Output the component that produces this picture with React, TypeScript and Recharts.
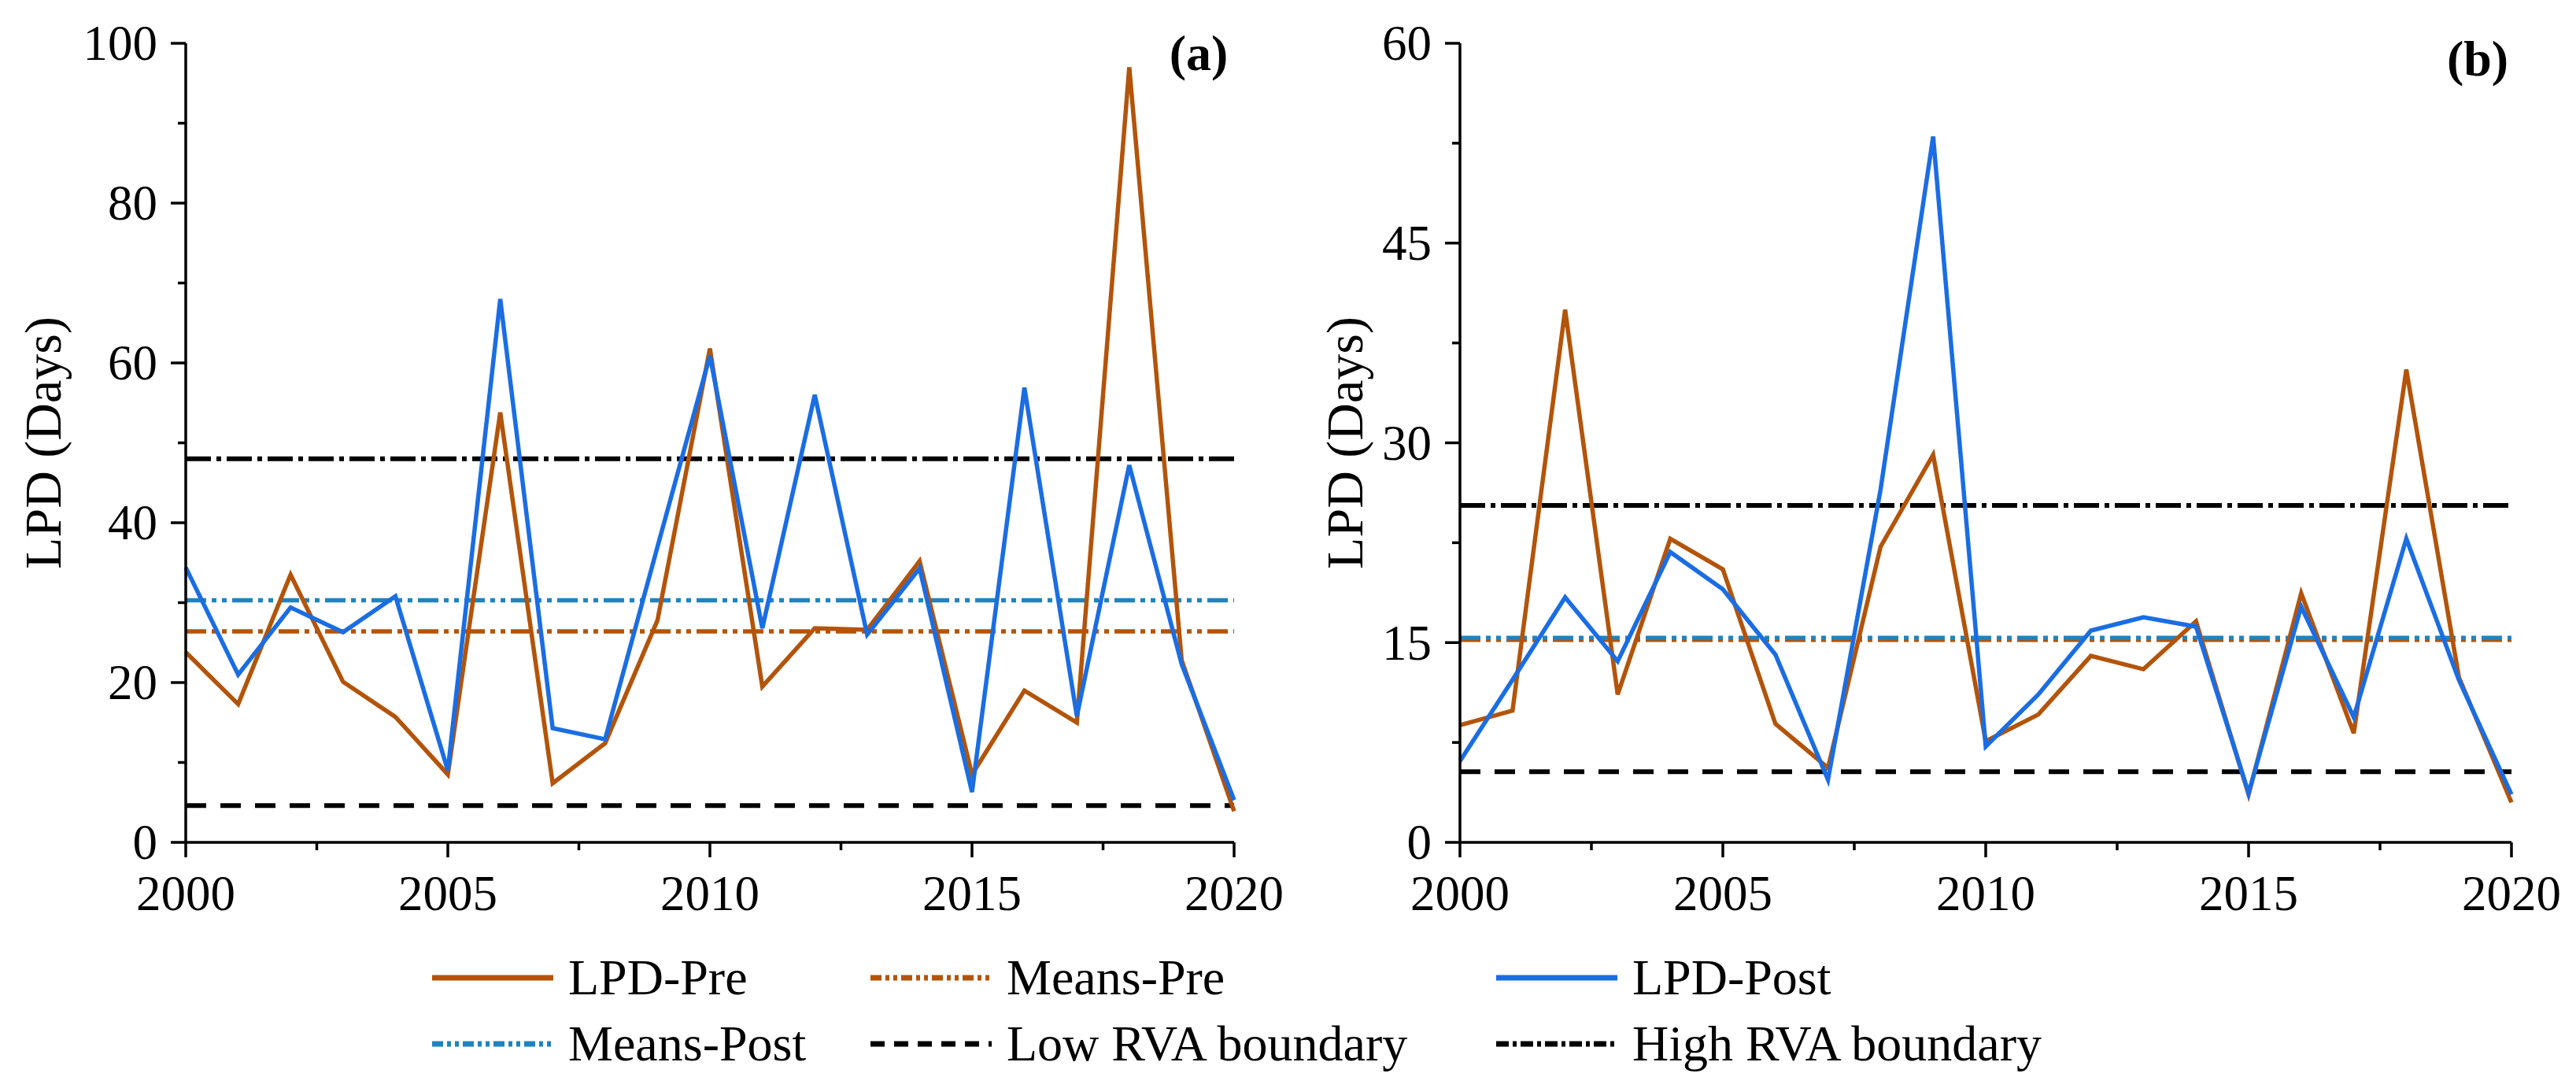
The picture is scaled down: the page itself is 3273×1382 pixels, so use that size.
import React from "react";
import { LineChart, Line, XAxis, YAxis, ReferenceLine } from "recharts";

const FONT = "'Liberation Serif', 'Times New Roman', serif";
const BROWN = "#B3540A";
const BLUE = "#1A6DE3";
const TEAL = "#1E84BF";

// years on the x axis
const years = [2000, 2001, 2002, 2003, 2004, 2005, 2006, 2007, 2008, 2009, 2010,
  2011, 2012, 2013, 2014, 2015, 2016, 2017, 2018, 2019, 2020];
const xTicks = [2000, 2002.5, 2005, 2007.5, 2010, 2012.5, 2015, 2017.5, 2020];

// panel (a)
const lpdPreA = [23.8, 17.3, 33.5, 20.1, 15.7, 8.5, 53.8, 7.4, 12.4, 27.8, 61.8,
  19.5, 26.8, 26.6, 35.2, 8.5, 19.0, 15.0, 97.0, 22.8, 3.9];
const lpdPostA = [34.4, 21.0, 29.4, 26.3, 30.8, 9.0, 68.0, 14.3, 12.9, 37.0, 60.9,
  26.8, 56.0, 26.0, 34.3, 6.3, 56.9, 15.8, 47.2, 22.3, 5.3];
const linesA = [26.4, 30.3, 4.6, 48.0]; // means-pre, means-post, low RVA, high RVA
const yTicksA = [0, 10, 20, 30, 40, 50, 60, 70, 80, 90, 100];

// panel (b)
const lpdPreB = [8.8, 9.9, 40.0, 11.1, 22.8, 20.5, 8.9, 5.6, 22.2, 29.1, 7.6,
  9.6, 14.0, 13.0, 16.6, 3.6, 18.7, 8.2, 35.5, 12.4, 3.0];
const lpdPostB = [6.1, 12.2, 18.4, 13.6, 21.8, 19.0, 14.1, 4.7, 26.5, 53.0, 7.2,
  11.1, 15.9, 16.9, 16.2, 3.7, 17.7, 9.4, 22.8, 12.2, 3.6];
const linesB = [15.2, 15.35, 5.3, 25.3];
const yTicksB = [0, 7.5, 15, 22.5, 30, 37.5, 45, 52.5, 60];

const DASH_MEAN = "26 7 6 7 6 7";
const DASH_LOW = "26 18";
const DASH_HIGH = "32 7 6 7";

const legendItems = [
  { label: "LPD-Pre", color: BROWN, dash: undefined, row: 0, col: 0 },
  { label: "Means-Pre", color: BROWN, dash: "14 5 5 5 5 5", row: 0, col: 1 },
  { label: "LPD-Post", color: BLUE, dash: undefined, row: 0, col: 2 },
  { label: "Means-Post", color: TEAL, dash: "14 5 5 5 5 5", row: 1, col: 0 },
  { label: "Low RVA boundary", color: "#000", dash: "18 12", row: 1, col: 1 },
  { label: "High RVA boundary", color: "#000", dash: "16 5 5 5", row: 1, col: 2 },
];
const legendCols = [549, 1106, 1901];
const legendRows = [1242, 1326];

function XTick(props: any) {
  const { x, y, payload } = props;
  const major = payload.value % 5 === 0;
  return (
    <g>
      <line x1={x} y1={y} x2={x} y2={y + (major ? 19 : 10)} stroke="#000" strokeWidth={3.5} />
      {major && (
        <text x={x} y={y + 86} textAnchor="middle" fontSize={63} fontFamily={FONT} fill="#000">
          {payload.value}
        </text>
      )}
    </g>
  );
}

const makeYTick = (labelStep: number) => (props: any) => {
  const { x, y, payload } = props;
  const major = payload.value % labelStep === 0;
  return (
    <g>
      <line x1={x} y1={y} x2={x - (major ? 19 : 10)} y2={y} stroke="#000" strokeWidth={3.5} />
      {major && (
        <text x={x - 36} y={y} dy="0.34em" textAnchor="end" fontSize={63} fontFamily={FONT} fill="#000">
          {payload.value}
        </text>
      )}
    </g>
  );
};

const makeYLabel = (offset: number) => (props: any) => {
  const vb = props.viewBox || {};
  const x = vb.x + vb.width - offset;
  const y = vb.y + vb.height / 2;
  return (
    <text x={x} y={y} transform={`rotate(-90, ${x}, ${y})`} textAnchor="middle"
      fontSize={66} fontFamily={FONT} fill="#000">
      LPD (Days)
    </text>
  );
};

function Panel(props: { pre: number[]; post: number[]; lines: number[]; ticks: number[];
  max: number; labelStep: number; labelOffset: number; yWidth: number; right: number }) {
  const { pre, post, lines, ticks, max, labelStep, labelOffset, yWidth, right } = props;
  const data = years.map((year, i) => ({ year, pre: pre[i], post: post[i] }));
  const YLabel = makeYLabel(labelOffset);
  return (
    <LineChart width={1640} height={1200} data={data}
      margin={{ top: 55, right, left: 0, bottom: 0 }}>
      <XAxis dataKey="year" type="number" domain={[2000, 2020]} ticks={xTicks}
        height={130} tick={<XTick />} tickLine={false} tickSize={0} tickMargin={0}
        interval={0} axisLine={{ stroke: "#000", strokeWidth: 3.5 }} />
      <YAxis type="number" domain={[0, max]} ticks={ticks} width={yWidth}
        tick={makeYTick(labelStep)} tickLine={false} tickSize={0} tickMargin={0}
        interval={0} axisLine={{ stroke: "#000", strokeWidth: 3.5 }}
        label={<YLabel />} />
      <ReferenceLine y={lines[2]} stroke="#000" strokeWidth={6} strokeDasharray={DASH_LOW} />
      <ReferenceLine y={lines[3]} stroke="#000" strokeWidth={6} strokeDasharray={DASH_HIGH} />
      <ReferenceLine y={lines[0]} stroke={BROWN} strokeWidth={5.5} strokeDasharray={DASH_MEAN} />
      <ReferenceLine y={lines[1]} stroke={TEAL} strokeWidth={5.5} strokeDasharray={DASH_MEAN} />
      <Line type="linear" dataKey="pre" stroke={BROWN} strokeWidth={5.5} dot={false}
        activeDot={false} isAnimationActive={false} />
      <Line type="linear" dataKey="post" stroke={BLUE} strokeWidth={5.5} dot={false}
        activeDot={false} isAnimationActive={false} />
    </LineChart>
  );
}

export default function App() {
  return (
    <div style={{ position: "relative", width: 3273, height: 1382, background: "#fff", fontFamily: FONT }}>
      <style>{"body{margin:0}"}</style>
      <div style={{ position: "absolute", left: 0, top: 0 }}>
        <Panel pre={lpdPreA} post={lpdPostA} lines={linesA} ticks={yTicksA} max={100}
          labelStep={20} labelOffset={159} yWidth={236} right={72} />
      </div>
      <div style={{ position: "absolute", left: 1620, top: 0 }}>
        <Panel pre={lpdPreB} post={lpdPostB} lines={linesB} ticks={yTicksB} max={60}
          labelStep={15} labelOffset={124} yWidth={235} right={69} />
      </div>
      <svg width={3273} height={1382} style={{ position: "absolute", left: 0, top: 0, pointerEvents: "none" }}>
        <text x={1523} y={89} textAnchor="middle" fontSize={64} fontWeight="bold" fontFamily={FONT}>(a)</text>
        <text x={3148} y={96} textAnchor="middle" fontSize={64} fontWeight="bold" fontFamily={FONT}>(b)</text>
        {legendItems.map((it) => {
          const x = legendCols[it.col];
          const y = legendRows[it.row];
          return (
            <g key={it.label}>
              <line x1={x} y1={y} x2={x + 154} y2={y} stroke={it.color} strokeWidth={7}
                strokeDasharray={it.dash} />
              <text x={x + 173} y={y + 21} fontSize={64} fontFamily={FONT} fill="#000">{it.label}</text>
            </g>
          );
        })}
      </svg>
    </div>
  );
}
